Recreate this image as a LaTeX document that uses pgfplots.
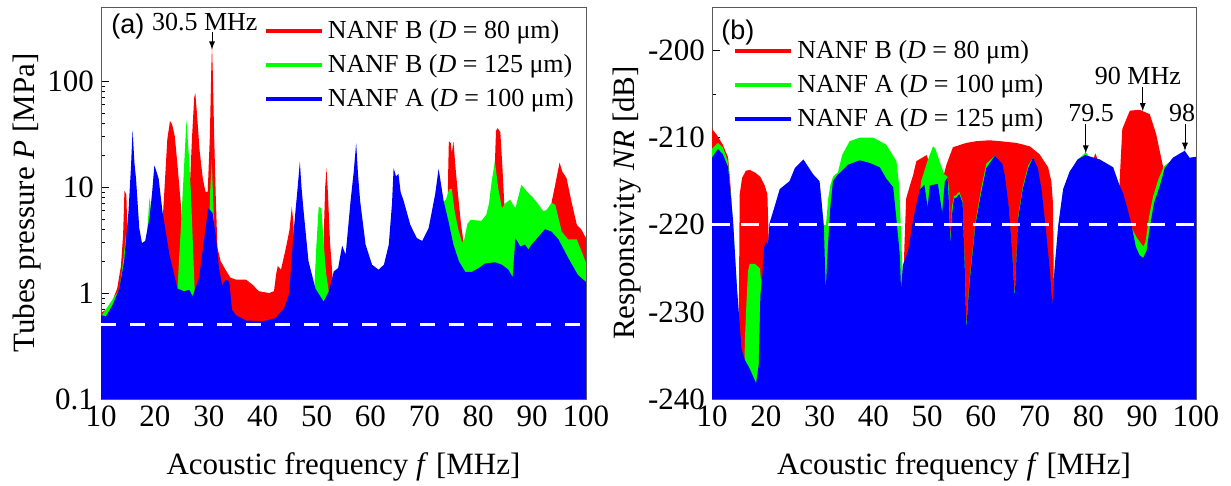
\documentclass[border=0pt]{standalone}
\usepackage{fontspec}
\setmainfont{Liberation Serif}
\newfontfamily\arialfont{Liberation Sans}
\usepackage{pgfplots}
\pgfplotsset{compat=1.18}
\definecolor{cR}{RGB}{255,0,0}
\definecolor{cG}{RGB}{0,255,0}
\definecolor{cB}{RGB}{0,0,255}
\newcommand{\bigf}{\fontsize{15.5}{18}\selectfont}
\newcommand{\smf}{\fontsize{13}{15}\selectfont}
\pgfplotsset{
  common/.style={
    scale only axis, anchor=south west,
    xmin=10, xmax=100,
    xtick={10,20,...,100}, xticklabels={10,20,30,40,50,60,70,80,90,100},
    minor xtick={15,25,...,95},
    tick align=inside, xtick pos=bottom, ytick pos=left,
    major tick length=4pt, minor tick length=2pt,
    axis line style={black!65}, tick style={black},
    tick label style={font=\bigf}, label style={font=\bigf},
    xlabel={Acoustic frequency \textit{f} [MHz]},
    xlabel style={at={(axis description cs:0.5,0)}, yshift=-34pt, anchor=center},
    legend style={draw=none, fill=none, font=\smf, anchor=north west, row sep=2.5pt,
      legend cell align=left},
  },
  limg/.style={legend image code/.code={\draw[#1, line width=2pt] (0pt,0pt) -- (28pt,0pt);}},
}
\begin{document}
\begin{tikzpicture}
\useasboundingbox (0,0) rectangle (615.5pt,243pt);
% ---------------- panel (a) ----------------
\begin{axis}[common,
  at={(50.5pt,43.5pt)}, width=242.5pt, height=196pt,
  ymode=log, ymin=0.1, ymax=500,
  ytick={0.1,1,10,100}, yticklabels={0.1,1,10,100},
  ylabel={Tubes pressure \textit{P} [MPa]},
  ylabel style={at={(axis description cs:-0.1526,0.5)}, anchor=center},
  legend style={at={(axis description cs:0.3225,0.987)}},
]
\addplot[fill=cR, draw=none, limg=cR] coordinates {
(10,0.1) (10,0.65) (11,0.7) (12,0.82) (13,1.1) (13.7,1.8) (14.1,3.5) (14.35,9.2) (14.7,8.5) (15.0,2.5) (15.4,0.5)
(21.0,0.5) (21.2,3) (21.8,10) (22.3,28) (22.8,42) (23.2,39) (23.7,30) (24.3,14) (24.8,7) (25.3,3) (25.8,1.5)
(26.4,8) (26.9,30) (27.3,70) (27.5,77) (27.8,50) (28.3,22) (28.9,12) (29.4,9) (29.8,9) (30.2,30) (30.45,120)
(30.6,215) (30.75,120) (31.0,30) (31.3,8) (31.6,2.7) (32.2,2.0) (33.1,1.66) (34.0,1.4) (35.0,1.34) (36.9,1.34)
(38.1,1.2) (39.3,1.04) (41.2,1.0) (42.1,1.04) (42.5,1.5) (42.8,1.8) (43.4,1.66) (44.3,2.65) (45.0,4) (45.4,6.5)
(45.7,4.7) (46.2,0.5) (51.0,0.5) (51.3,3) (51.6,10) (51.85,15) (52.1,9) (52.5,3) (52.9,1.6) (53.2,0.5)
(74.2,0.5) (74.4,12) (74.55,27) (74.9,26) (75.1,21) (75.4,27) (75.8,15) (76.3,8) (76.8,4.5) (77.2,3.2) (77.6,1.0)
(82.7,1.0) (83.0,12) (83.3,34) (83.6,36) (84.1,33) (84.5,15) (84.9,6) (85.3,1.0) (93.3,1.0) (93.6,7.1) (94.2,10)
(95.1,17) (95.6,14) (96.4,12.1) (97.3,7.3) (98.3,4.4) (99.1,4.0) (100,3.3) (100,0.1)};
\addlegendentry{NANF B (\textit{D} = 80 μm)}
\addplot[fill=cG, draw=none, limg=cG] coordinates {
(10,0.1) (10,0.6) (13.4,1.08) (14.2,2.2) (14.6,3.5) (14.9,2.5) (15.3,0.5) (18.4,0.5) (18.6,4) (19.0,7.9) (19.3,6)
(19.6,0.5) (24.0,0.5) (24.2,1.12) (24.8,4) (25.4,15) (25.85,43) (26.3,20) (26.7,8.5) (27.1,2.5) (27.4,1.0)
(27.7,0.5) (29.9,0.5) (30.2,8) (30.55,18) (30.8,8) (31.1,3) (31.4,0.5) (49.4,0.5) (49.6,1.15) (50.0,3) (50.4,6.5)
(50.9,6.3) (51.3,3) (51.8,1.5) (52.3,1.0) (52.6,0.5) (73.3,0.5) (73.6,7.3) (74.0,7.6) (74.6,9.5) (75.1,9.6)
(75.6,6) (76.3,4) (77.0,3.0) (77.4,3.2) (78.0,4.5) (78.6,4.9) (80.6,4.8) (81.5,5.5) (82.0,7) (82.5,11.3)
(83.1,17.5) (83.7,9.8) (84.4,6.3) (85.0,7.0) (85.9,7.6) (86.9,6.3) (88,10.5) (89,9.1) (90.2,7.9) (91.2,6.8)
(92.1,5.9) (92.7,6.1) (93.6,7.1) (94.3,6.8) (95.5,3.8) (96.7,3.2) (98.3,3.2) (99.8,2.05) (100,1.95) (100,0.1)};
\addlegendentry{NANF B (\textit{D} = 125 μm)}
\addplot[fill=cB, draw=none, limg=cB] coordinates {
(10,0.1) (10,0.62) (10.9,0.60) (12.2,0.78) (13.4,1.1) (14.3,2.0) (15.1,5.9) (15.55,15) (15.86,34.6) (16.2,17)
(16.5,12) (17.1,4.1) (17.6,2.96) (18.2,3.1) (19.0,5.1) (19.5,9) (19.9,16) (20.3,14) (20.7,12) (21.4,5.9)
(22.7,2.3) (24.2,1.1) (25.4,1.04) (26.4,1.07) (27.0,0.93) (28.2,1.38) (29.1,3.1) (29.9,6.3) (30.7,5.7)
(31.3,3.5) (31.9,1.7) (32.5,1.18) (33.1,1.34) (33.8,1.29) (34.3,0.70) (35.0,0.62) (36.9,0.55) (40,0.54)
(42.4,0.58) (44,0.72) (44.9,0.98) (45.8,4.1) (46.5,10) (46.9,17.4) (47.2,10) (47.6,5.9) (48.5,2.0) (49.8,1.1)
(51.3,0.83) (52.3,1.04) (53.2,1.6) (54.0,1.72) (54.75,2.8) (55.4,2.3) (56.3,7.3) (56.9,14) (57.35,26) (57.7,13)
(58.1,7.3) (59.1,2.86) (60.3,1.85) (61.5,1.66) (62.5,1.85) (63.4,2.86) (64.0,7) (64.3,15.1) (64.75,12.6)
(65.2,13.3) (65.6,9) (66.2,7.3) (67.4,4.4) (68.6,3.3) (69.6,3.1) (70.8,4.1) (72.0,8.5) (72.65,14.9) (73.6,7.3)
(74.5,4.7) (75.4,2.86) (76.4,2.0) (77.6,1.58) (78.8,1.58) (80.1,1.72) (81.3,1.9) (83.1,1.95) (84.4,1.85)
(85.6,1.66) (86.4,1.41) (86.9,3.3) (87.8,2.75) (88.7,2.86) (89.3,2.57) (89.9,2.86) (91.2,3.4) (92.4,4.0)
(93.6,3.8) (94.9,3.2) (96.7,2.14) (98.5,1.48) (100,1.27) (100,0.1)};
\addlegendentry{NANF A (\textit{D} = 100 μm)}
\addplot[white, line width=1.5pt, dash pattern=on 7.5pt off 7pt, forget plot] coordinates {(10,0.5) (100,0.5)};
\node[font=\arialfont\fontsize{13.5}{16}\selectfont] at (axis cs:15,324) {(a)};
\node[font=\smf] at (axis cs:29.26,360) {30.5 MHz};
\draw[-latex, thin] (axis cs:30.6,292) -- (axis cs:30.6,199);
\end{axis}
% ---------------- panel (b) ----------------
\begin{axis}[common,
  at={(356pt,43.5pt)}, width=242pt, height=196pt,
  ymin=-240, ymax=-195,
  ytick={-240,-230,-220,-210,-200}, yticklabels={-240,-230,-220,-210,-200},
  minor ytick={-235,-225,-215,-205},
  ylabel={Responsivity \textit{NR} [dB]},
  ylabel style={at={(axis description cs:-0.1756,0.5)}, anchor=center},
  legend style={at={(axis description cs:0.031,0.937)}},
]
\addplot[fill=cR, draw=none, limg=cR] coordinates {
(10,-240) (10,-209) (10.8,-209.6) (12,-210.8) (13,-212.3) (13.5,-216) (14,-222) (14.5,-232) (14.9,-239) (15.05,-225)
(15.15,-216.5) (15.6,-214.6) (16.3,-213.8) (17,-213.7) (18,-214) (19,-214.5) (19.8,-215.5) (20.3,-216.5)
(20.55,-222) (20.7,-240) (45.6,-240) (45.75,-223) (46.1,-217) (46.8,-215.5) (47.4,-214.3) (48,-212.7)
(49.9,-212.0) (50.5,-213) (52,-215) (53.0,-214.5) (53.6,-213.1) (54.8,-211.1) (57.3,-210.6) (59.2,-210.4)
(61.6,-210.3) (63.5,-210.4) (66.6,-210.6) (69.1,-211) (70.9,-211.9) (72.5,-213.4) (73.1,-215) (73.4,-217.5)
(73.6,-229) (73.8,-240) (80.4,-240) (80.6,-213) (81.3,-211.8) (81.8,-212.7) (82.2,-240) (85.4,-240) (85.8,-215)
(86.3,-209) (87.7,-206.9) (89.5,-206.8) (91.4,-207.3) (92.6,-209.6) (93.9,-213.4) (94.2,-215) (94.5,-240) (100,-240)};
\addlegendentry{NANF B (\textit{D} = 80 μm)}
\addplot[fill=cG, draw=none, limg=cG] coordinates {
(10,-240) (10,-211.3) (11.1,-210.6) (12,-211.1) (13,-212.8) (13.9,-219.6) (14.65,-227.6) (15.5,-238) (16.0,-239.5)
(16.1,-233.5) (16.4,-229) (16.7,-225.3) (17,-224.5) (18,-224.5) (18.9,-225) (19.2,-227) (19.4,-236) (19.6,-240)
(29.8,-240) (30.0,-215.5) (30.4,-217.7) (30.8,-220.0) (31.2,-220) (31.6,-217) (32.0,-215.5) (32.5,-214.5)
(33.0,-214.2) (33.4,-214) (34.2,-212) (35.6,-210.4) (37.5,-210) (40,-210) (42.4,-210.8) (44.3,-212.7)
(44.8,-215.5) (45.1,-220) (45.4,-225) (45.5,-228) (45.7,-240) (48.5,-240) (48.7,-216) (48.9,-215) (50,-212.8)
(51.1,-211.0) (51.5,-211.2) (52.3,-212.7) (53.2,-214.2) (53.8,-214.5) (54.1,-216) (54.3,-222) (54.6,-218)
(55,-216.7) (55.4,-216.6) (56,-216.2) (56.6,-217.3) (57.0,-224.5) (57.3,-231.6) (57.6,-228.6) (58,-225.6)
(59,-219.7) (60,-216) (61,-213) (62.6,-212.1) (64,-213.2) (64.5,-214.8) (65.2,-218.3) (65.8,-223.2) (66.3,-228)
(66.6,-223.7) (66.9,-219.1) (67.8,-215.6) (68.8,-213.2) (69.7,-212.3) (70.6,-213.7) (71.3,-216.3) (72,-220.5)
(72.8,-225.5) (73.3,-229.5) (73.7,-225.3) (74.4,-220.3) (75.3,-216.1) (76.5,-214.0) (78,-212.5) (78.8,-212.1)
(79.5,-211.7) (80.3,-212.3) (82.1,-212.6) (84.6,-213.6) (85.5,-215.2) (86.5,-216.8) (87.2,-218.3) (88,-220.3)
(89.0,-221.5) (89.6,-222) (90.2,-222.5) (90.6,-222) (91.3,-219) (92,-216.8) (93,-214.8) (94,-213.3) (95.7,-212.5)
(97.9,-211.8) (98.8,-212.5) (100,-212.4) (100,-240)};
\addlegendentry{NANF A (\textit{D} = 100 μm)}
\addplot[fill=cB, draw=none, limg=cB] coordinates {
(10,-240) (10,-212.3) (11.1,-211.3) (12,-211.9) (13,-213.4) (13.9,-219.4) (14.65,-227.3) (15.5,-234.3) (16.1,-235.5)
(17,-236.5) (18.2,-238.2) (18.7,-236) (19.0,-228) (19.3,-226.5) (19.7,-222.5) (20.1,-222) (20.4,-222.3)
(20.7,-219.8) (21.3,-218.6) (22.6,-215.9) (24.4,-215) (25.4,-213.5) (27,-212.5) (28.8,-214.2) (30,-215)
(30.4,-217.5) (30.8,-220.3) (31.15,-227.5) (31.5,-223) (32.0,-218) (32.5,-215) (33.3,-214.3) (34.2,-213.8)
(35.3,-213.1) (37.5,-212.6) (39.3,-212.9) (41.2,-213.4) (42.4,-214.7) (43.7,-215.7) (44.3,-219.4) (44.9,-223.3)
(45.15,-227.4) (45.5,-224.6) (45.8,-224.1) (46.5,-222.9) (47.4,-219.4) (48.6,-216) (49.5,-215.4) (50.1,-218)
(50.5,-215.5) (52,-215.3) (52.8,-218.6) (53.3,-215) (53.8,-214.6) (54.1,-218) (54.3,-222.4) (54.6,-219)
(55.0,-217) (55.4,-216.9) (56.0,-216.5) (56.6,-217.5) (57.0,-225) (57.3,-232) (57.6,-229) (58.0,-226) (59.0,-220)
(60.0,-216.5) (61.0,-213.5) (62.6,-212.1) (64.0,-213) (64.5,-214.5) (65.2,-218) (65.8,-223) (66.3,-228.4)
(66.6,-224) (66.9,-219.4) (67.8,-215.9) (68.8,-213.5) (69.7,-212.3) (70.6,-213.5) (71.3,-216) (72.0,-220)
(72.8,-225) (73.3,-229.2) (73.7,-225) (74.4,-220) (75.3,-215.9) (76.5,-213.9) (78,-212.5) (79.4,-212.0)
(82.1,-212.5) (84.6,-213.4) (85.5,-215) (86.5,-216.5) (87.2,-218) (88,-220) (88.8,-222.5) (89.5,-223.5)
(90.2,-223.8) (90.8,-223) (91.5,-220) (92.2,-217.5) (93.3,-215.5) (94.2,-213.5) (95.7,-212.3) (97.9,-211.5)
(98.8,-212.3) (100,-212.2) (100,-240)};
\addlegendentry{NANF A (\textit{D} = 125 μm)}
\addplot[white, line width=1.5pt, dash pattern=on 9pt off 5.5pt, forget plot] coordinates {(10,-220) (100,-220)};
\node[font=\arialfont\fontsize{13.5}{16}\selectfont] at (axis cs:14.8,-197.9) {(b)};
\node[font=\smf] at (axis cs:89.2,-202.9) {90 MHz};
\draw[-latex, thin] (axis cs:90.1,-204.2) -- (axis cs:90.1,-206.95);
\node[font=\smf] at (axis cs:80.5,-207.2) {79.5};
\draw[-latex, thin] (axis cs:79.5,-208.4) -- (axis cs:79.5,-211.8);
\node[font=\smf] at (axis cs:97.4,-207.2) {98};
\draw[-latex, thin] (axis cs:97.95,-208.4) -- (axis cs:97.95,-211.5);
\end{axis}
\end{tikzpicture}
\end{document}
